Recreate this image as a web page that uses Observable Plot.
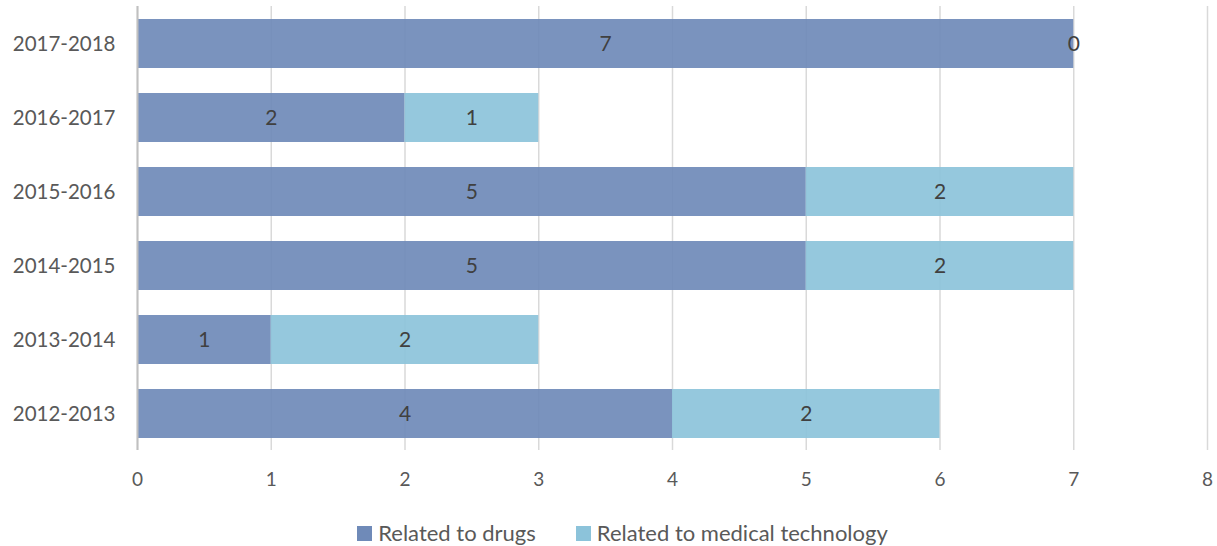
<!DOCTYPE html>
<html>
<head>
<meta charset="utf-8">
<script src="https://cdn.jsdelivr.net/npm/d3@7"></script>
<script src="https://cdn.jsdelivr.net/npm/@observablehq/plot@0.6"></script>
<style>
  body { margin: 0; background: #fff; font-family: Lato, "Open Sans", sans-serif; }
  #chart svg { display: block; }
  .legend { display: flex; justify-content: center; gap: 40px; font-size: 22px; color: #595959; padding-left: 28px; margin-top: 20px; line-height: 26px; }
  .legend span { display: inline-flex; align-items: center; }
  .legend i { display: inline-block; width: 15px; height: 15px; margin-right: 6px; }
</style>
</head>
<body>
<div id="chart"></div>
<div class="legend" id="legend"></div>
<script>
// Reporting periods, listed top to bottom
const periods = ["2017-2018", "2016-2017", "2015-2016", "2014-2015", "2013-2014", "2012-2013"];
const series = ["Related to drugs", "Related to medical technology"];
const drugs = [7, 2, 5, 5, 1, 4];
const medtech = [0, 1, 2, 2, 2, 2];
const xTicks = [0, 1, 2, 3, 4, 5, 6, 7, 8];
const colors = ["#6f8ab8", "#8cc3da"];

const rows = [];
periods.forEach((p, i) => {
  rows.push({period: p, type: series[0], value: drugs[i]});
  rows.push({period: p, type: series[1], value: medtech[i]});
});

const chart = Plot.plot({
  width: 1217,
  height: 500,
  marginLeft: 137,
  marginRight: 10,
  marginTop: 6,
  marginBottom: 50,
  style: {fontFamily: "Lato, 'Open Sans', sans-serif", fontSize: "20px", color: "#595959"},
  x: {domain: [0, 8], ticks: xTicks, tickSize: 0, tickPadding: 22, label: null},
  y: {domain: periods, paddingInner: 0.34, paddingOuter: 0.17, tickSize: 0, tickPadding: 22, label: null},
  color: {domain: series, range: colors},
  marks: [
    Plot.gridX(xTicks, {stroke: "#d9d9d9", strokeOpacity: 1, strokeWidth: 1.5}),
    Plot.barX(rows, Plot.stackX({x: "value", y: "period", fill: "type", fillOpacity: 0.92, order: series})),
    Plot.ruleX([0], {stroke: "#c0c0c0", strokeWidth: 2}),
    Plot.text(rows, Plot.stackX({x: "value", y: "period", z: "type", text: "value", order: series, fill: "#404040", fontSize: 21})),
    Plot.axisX({ticks: xTicks, tickSize: 0, tickPadding: 22, fontSize: 19}),
    Plot.axisY({tickSize: 0, tickPadding: 22, fontSize: 20.5})
  ]
});
document.getElementById("chart").appendChild(chart);

const legend = document.getElementById("legend");
series.forEach((s, i) => {
  const item = document.createElement("span");
  item.innerHTML = `<i style="background:${colors[i]}"></i>${s}`;
  legend.appendChild(item);
});
</script>
</body>
</html>
